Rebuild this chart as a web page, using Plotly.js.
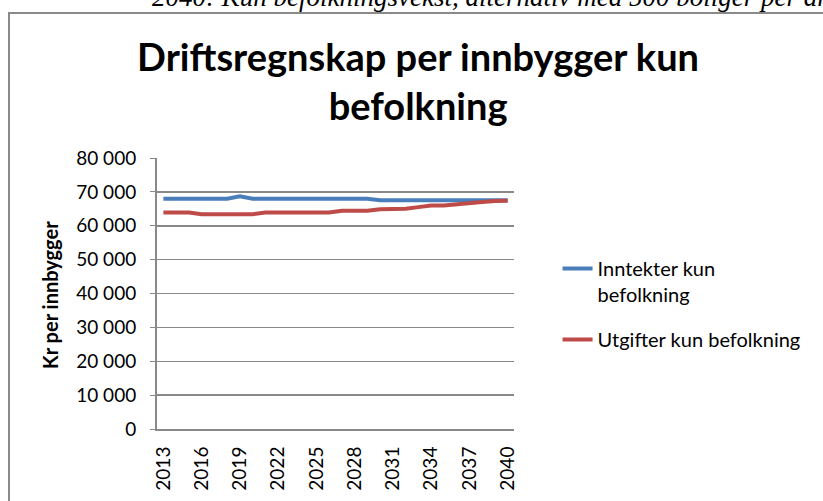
<!DOCTYPE html>
<html>
<head>
<meta charset="utf-8">
<script src="https://cdn.plot.ly/plotly-3.0.1.min.js"></script>
<style>
  body { margin: 0; background: #fff; }
  #chart { width: 823px; height: 501px; }
</style>
</head>
<body>
<div id="chart"></div>
<script>
// Values (kr per innbygger)
const years = ['2013', '2014', '2015', '2016', '2017', '2018', '2019', '2020', '2021', '2022',
    '2023', '2024', '2025', '2026', '2027', '2028', '2029', '2030', '2031', '2032',
    '2033', '2034', '2035', '2036', '2037', '2038', '2039', '2040'];
const inntekter = [68000, 68000, 68000, 68000, 68000, 68000, 68700, 68000, 68000, 68000,
    68000, 68000, 68000, 68000, 68000, 68000, 68000, 67500, 67500, 67500,
    67500, 67500, 67500, 67500, 67500, 67500, 67500, 67500];
const utgifter = [63900, 63900, 63900, 63400, 63400, 63400, 63400, 63400, 63900, 63900,
    63900, 63900, 63900, 63900, 64400, 64400, 64400, 64900, 65000, 65000,
    65500, 66000, 66000, 66400, 66800, 67000, 67300, 67400];
const tickYears = ['2013', '2016', '2019', '2022', '2025', '2028', '2031', '2034', '2037', '2040'];

const font = 'Lato, Calibri, "Open Sans", sans-serif';
const grid = '#898989';

const traces = [
    {
        x: years, y: inntekter, type: 'scatter', mode: 'lines',
        name: 'Inntekter kun<br>befolkning', legendgroup: 'a',
        line: { color: '#4A7EBB', width: 4 }
    },
    {
        x: years, y: utgifter, type: 'scatter', mode: 'lines',
        name: 'Utgifter kun befolkning', legendgroup: 'b',
        line: { color: '#BE4B48', width: 4 }
    }
];

const layout = {
    width: 823,
    height: 501,
    margin: { l: 157, r: 309, t: 158, b: 72 },
    paper_bgcolor: '#fff',
    plot_bgcolor: '#fff',
    separators: ', ',
    font: { family: font, color: '#000', size: 19 },
    title: {
        text: 'Driftsregnskap per innbygger kun<br>befolkning',
        font: { family: font, size: 38, color: '#000', weight: 'bold' },
        x: 0.508, xanchor: 'center',
        y: 1 - 71 / 501, yanchor: 'top', yref: 'container'
    },
    xaxis: {
        type: 'category',
        range: [-0.5, years.length - 0.5],
        tickmode: 'array',
        tickvals: tickYears,
        ticktext: tickYears,
        tickangle: -90,
        tickfont: { size: 19 },
        ticklabelstandoff: 8,
        showgrid: false,
        showline: true,
        linecolor: grid,
        linewidth: 2,
        ticks: '',
        zeroline: false
    },
    yaxis: {
        range: [0, 80000],
        dtick: 10000,
        tickformat: ',d',
        tickfont: { size: 19 },
        ticklabelstandoff: 10,
        showgrid: true,
        gridcolor: grid,
        gridwidth: 1.5,
        showline: true,
        linecolor: grid,
        linewidth: 2,
        ticks: 'outside',
        ticklen: 5,
        tickcolor: grid,
        zeroline: false
    },
    showlegend: true,
    legend: {
        x: 1.122, xanchor: 'left',
        y: 0.664, yanchor: 'top',
        valign: 'top',
        font: { family: font, size: 20 },
        tracegroupgap: 16,
        bgcolor: 'rgba(0,0,0,0)'
    },
    shapes: [
        {
            type: 'rect', xref: 'paper', yref: 'paper',
            x0: (9 - 157) / 357, x1: 2.5,
            y0: -1, y1: (429 - 13) / 271,
            line: { color: '#8a8a8a', width: 2 }
        }
    ],
    annotations: [
        {
            text: '2040: Kun befolkningsvekst, alternativ med 500 boliger per år',
            xref: 'paper', yref: 'paper',
            x: (150 - 157) / 357, xanchor: 'left',
            y: (429 + 3) / 271, yanchor: 'middle',
            showarrow: false,
            font: { family: '"Liberation Serif", serif', size: 27, style: 'italic', color: '#000' }
        },
        {
            // y-axis title, placed where the reference has it
            text: 'Kr per innbygger',
            xref: 'paper', yref: 'paper',
            x: (50 - 157) / 357, xanchor: 'center',
            y: (429 - 295) / 271, yanchor: 'middle',
            textangle: -90,
            showarrow: false,
            font: { family: font, size: 20, weight: 'bold', color: '#000' }
        }
    ]
};

Plotly.newPlot('chart', traces, layout, { displayModeBar: false, staticPlot: true });
</script>
</body>
</html>
